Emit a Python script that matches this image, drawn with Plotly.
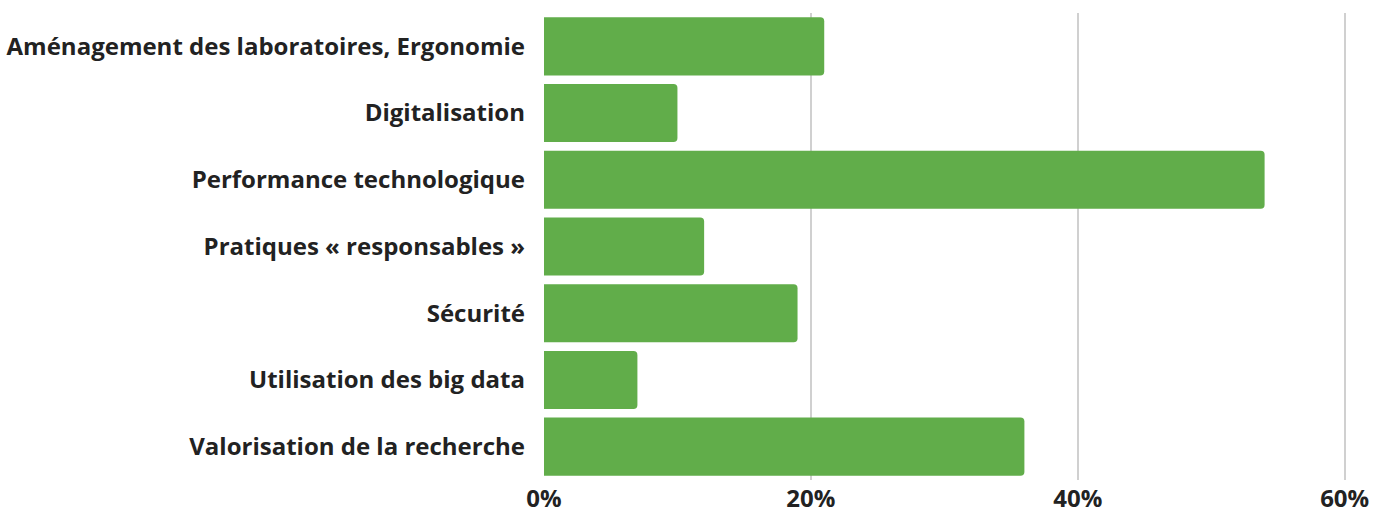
import plotly.graph_objects as go

categories = [
    "Aménagement des laboratoires, Ergonomie",
    "Digitalisation",
    "Performance technologique",
    "Pratiques « responsables »",
    "Sécurité",
    "Utilisation des big data",
    "Valorisation de la recherche",
]
values = [21, 10, 54, 12, 19, 7, 36]
tick_vals = [0, 20, 40, 60]
tick_text = ["0%", "20%", "40%", "60%"]

FONT = dict(family="Open Sans", size=24, color="#222222", weight="bold")

fig = go.Figure(go.Bar(
    x=values, y=categories, orientation="h",
    marker=dict(color="#61AD4A", line=dict(width=0)),
    hoverinfo="x+y",
))

fig.update_layout(
    width=1386, height=513,
    margin=dict(l=544, r=40, t=13, b=33, autoexpand=False),
    paper_bgcolor="white", plot_bgcolor="white",
    bargap=0.13, barcornerradius=4,
    font=dict(family="Open Sans", size=16, color="#222222"),
    showlegend=False,
)
fig.update_xaxes(
    range=[0, 60.1], tickvals=tick_vals, ticktext=tick_text,
    showgrid=True, gridcolor="#d0d0d0", gridwidth=2,
    zeroline=False, showline=False, automargin=False,
    tickfont=FONT,
    ticklabelstandoff=2,
)
fig.update_yaxes(
    autorange="reversed", showgrid=False, zeroline=False, showline=False,
    automargin=False,
    tickfont=FONT,
    ticklabelstandoff=18,
)

fig.write_html("out.html", config={"displayModeBar": False},
               post_script="document.body.style.margin='0';")
